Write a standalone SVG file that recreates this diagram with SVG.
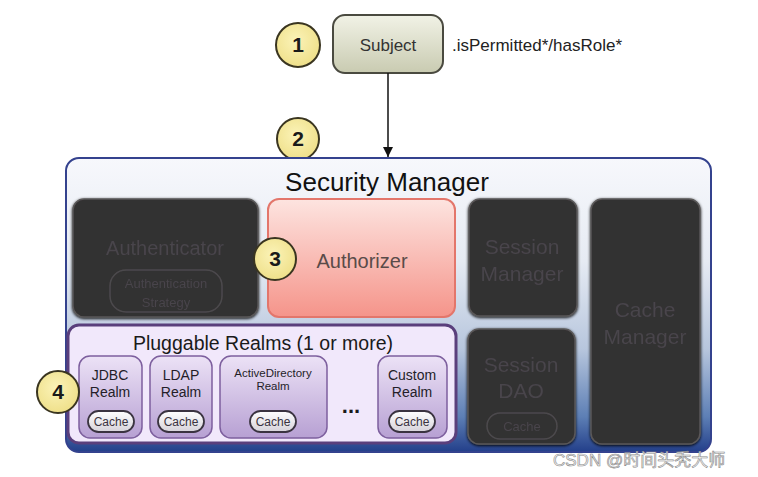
<svg xmlns="http://www.w3.org/2000/svg" width="758" height="477" viewBox="0 0 758 477">
<defs>
<linearGradient id="gOuter" x1="0" y1="0" x2="0" y2="1">
<stop offset="0" stop-color="#f7f8fc"/>
<stop offset="0.35" stop-color="#e6ebf3"/>
<stop offset="0.65" stop-color="#b7c6dd"/>
<stop offset="0.88" stop-color="#5d7fb5"/>
<stop offset="1" stop-color="#233f8a"/>
</linearGradient>
<linearGradient id="gSubj" x1="0" y1="0" x2="0" y2="1">
<stop offset="0" stop-color="#f1f2e6"/>
<stop offset="1" stop-color="#c9cbb1"/>
</linearGradient>
<linearGradient id="gAuthz" x1="0" y1="0" x2="0" y2="1">
<stop offset="0" stop-color="#fde4e0"/>
<stop offset="1" stop-color="#f5948a"/>
</linearGradient>
<linearGradient id="gRealm" x1="0" y1="0" x2="0" y2="1">
<stop offset="0" stop-color="#ece2f6"/>
<stop offset="1" stop-color="#b7a0d3"/>
</linearGradient>
<linearGradient id="gCache" x1="0" y1="0" x2="0" y2="1">
<stop offset="0" stop-color="#ffffff"/>
<stop offset="1" stop-color="#d6d2da"/>
</linearGradient>
<radialGradient id="gCircle" cx="0.45" cy="0.4" r="0.6">
<stop offset="0" stop-color="#fbf3b8"/>
<stop offset="1" stop-color="#efe08a"/>
</radialGradient>
<marker id="arrow" viewBox="0 0 10 10" refX="10" refY="5" markerWidth="10" markerHeight="10" markerUnits="userSpaceOnUse" orient="auto">
<path d="M0,0 L10,5 L0,10 z" fill="#111"/>
</marker>
<filter id="shadow" x="-10%" y="-10%" width="120%" height="120%">
<feGaussianBlur in="SourceAlpha" stdDeviation="1.5"/>
<feOffset dx="0" dy="1" result="b"/>
<feMerge><feMergeNode in="b"/><feMergeNode in="SourceGraphic"/></feMerge>
</filter>
</defs>
<style>
text{font-family:"Liberation Sans",Arial,sans-serif;text-anchor:middle}
.dark{fill:#333132;stroke:#5a5859;stroke-width:1.5}
.darktxt{fill:#48454b}
.circle{fill:url(#gCircle);stroke:#3a3520;stroke-width:2}
.num{font-size:21px;font-weight:bold;fill:#1a1a1a}
.realm{fill:url(#gRealm);stroke:#7d5f9e;stroke-width:1.5}
.realmtxt{font-size:14px;fill:#241e28}
.cache{fill:url(#gCache);stroke:#3a3340;stroke-width:1.8}
.cachetxt{font-size:12px;fill:#3a3340}
</style>
<rect width="758" height="477" fill="#ffffff"/>

<g id="circle2">
<circle class="circle" cx="298" cy="139" r="21"/>
<text class="num" x="298" y="146">2</text>
</g>

<g id="security-manager">
<rect x="66" y="158" width="645" height="294" rx="13" fill="url(#gOuter)" stroke="#34428e" stroke-width="2"/>
<text x="387" y="191" font-size="26" fill="#111">Security Manager</text>
</g>

<g id="authenticator" filter="url(#shadow)">
<rect class="dark" x="73" y="199" width="185" height="118" rx="11"/>
<text class="darktxt" x="165" y="255" font-size="20">Authenticator</text>
<rect x="110" y="270" width="112" height="42" rx="16" fill="none" stroke="#4c4a4d" stroke-width="1.5"/>
<text class="darktxt" x="166" y="288" font-size="13">Authentication</text>
<text class="darktxt" x="166" y="307" font-size="13">Strategy</text>
</g>

<g id="authorizer">
<rect x="268" y="199" width="187" height="118" rx="11" fill="url(#gAuthz)" stroke="#e3766b" stroke-width="2"/>
<text x="362" y="268" font-size="20" fill="#5a4b49">Authorizer</text>
</g>

<g id="session-manager" filter="url(#shadow)">
<rect class="dark" x="469" y="199" width="108" height="117" rx="11"/>
<text class="darktxt" x="522" y="254" font-size="21">Session</text>
<text class="darktxt" x="522" y="281" font-size="21">Manager</text>
</g>

<g id="cache-manager" filter="url(#shadow)">
<rect class="dark" x="591" y="199" width="109" height="245" rx="11"/>
<text class="darktxt" x="645" y="317" font-size="21">Cache</text>
<text class="darktxt" x="645" y="344" font-size="21">Manager</text>
</g>

<g id="session-dao" filter="url(#shadow)">
<rect class="dark" x="468" y="329" width="107" height="115" rx="11"/>
<text class="darktxt" x="521" y="372" font-size="21">Session</text>
<text class="darktxt" x="521" y="398" font-size="21">DAO</text>
<rect x="487" y="413" width="70" height="26" rx="13" fill="none" stroke="#4c4a4d" stroke-width="1.5"/>
<text class="darktxt" x="522" y="431" font-size="13">Cache</text>
</g>

<g id="pluggable-realms">
<rect x="68" y="325" width="388" height="118" rx="11" fill="#f1e8fb" stroke="#5a3f7c" stroke-width="3"/>
<text x="263" y="350" font-size="19.5" fill="#1a1a1a">Pluggable Realms (1 or more)</text>
</g>

<g id="jdbc-realm">
<rect class="realm" x="79" y="356" width="63" height="82" rx="11"/>
<text class="realmtxt" x="110" y="380">JDBC</text>
<text class="realmtxt" x="110" y="397">Realm</text>
<rect class="cache" x="88" y="411" width="46" height="21" rx="10.5"/>
<text class="cachetxt" x="111" y="426">Cache</text>
</g>

<g id="ldap-realm">
<rect class="realm" x="150" y="356" width="62" height="82" rx="11"/>
<text class="realmtxt" x="181" y="380">LDAP</text>
<text class="realmtxt" x="181" y="397">Realm</text>
<rect class="cache" x="158" y="411" width="46" height="21" rx="10.5"/>
<text class="cachetxt" x="181" y="426">Cache</text>
</g>

<g id="activedirectory-realm">
<rect class="realm" x="220" y="356" width="107" height="82" rx="11"/>
<text x="273" y="377" font-size="11.5" fill="#241e28">ActiveDirectory</text>
<text x="273" y="390" font-size="11.5" fill="#241e28">Realm</text>
<rect class="cache" x="250" y="411" width="46" height="21" rx="10.5"/>
<text class="cachetxt" x="273" y="426">Cache</text>
</g>

<g id="ellipsis">
<text x="351" y="413" font-size="22" font-weight="bold" fill="#1a1a1a">...</text>
</g>

<g id="custom-realm">
<rect class="realm" x="378" y="356" width="69" height="82" rx="11"/>
<text class="realmtxt" x="412" y="380">Custom</text>
<text class="realmtxt" x="412" y="397">Realm</text>
<rect class="cache" x="389" y="411" width="46" height="21" rx="10.5"/>
<text class="cachetxt" x="412" y="426">Cache</text>
</g>

<g id="subject">
<rect x="333" y="15" width="110" height="58" rx="12" fill="url(#gSubj)" stroke="#4a4a40" stroke-width="2"/>
<text x="388" y="51" font-size="17" fill="#333">Subject</text>
<text x="452" y="51" font-size="17" fill="#222" style="text-anchor:start">.isPermitted*/hasRole*</text>
</g>

<g id="connectors">
<line x1="388" y1="73" x2="388" y2="157" stroke="#111" stroke-width="1.5" marker-end="url(#arrow)"/>
</g>

<g id="circle1">
<circle class="circle" cx="298" cy="45" r="22"/>
<text class="num" x="298" y="52">1</text>
</g>
<g id="circle3">
<circle class="circle" cx="275" cy="259" r="21"/>
<text class="num" x="275" y="266">3</text>
</g>
<g id="circle4">
<circle class="circle" cx="58" cy="392" r="21"/>
<text class="num" x="58" y="399">4</text>
</g>

<text x="553" y="466" font-size="17" fill="#f4f4f4" stroke="#8a8a8a" stroke-width="0.6" style="text-anchor:start;font-family:'Liberation Sans','Noto Sans CJK SC',sans-serif">CSDN @时间头秃大师</text>
</svg>
